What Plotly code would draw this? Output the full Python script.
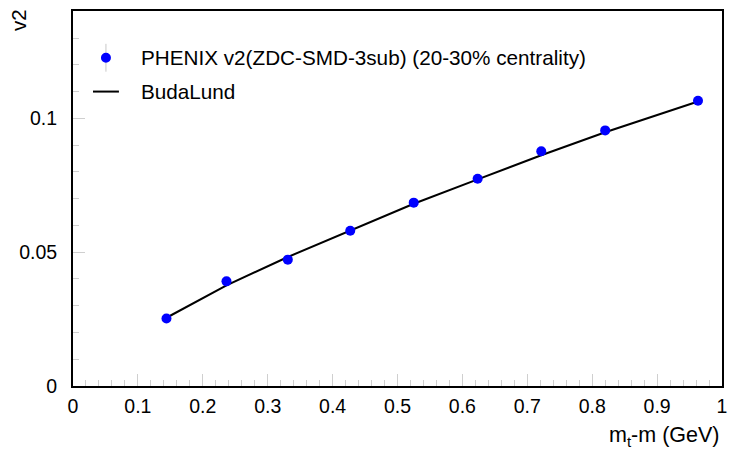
import plotly.graph_objects as go

# PHENIX v2 data points (20-30% centrality)
mt_m = [0.144, 0.2365, 0.331, 0.4272, 0.525, 0.6235, 0.7215, 0.820, 0.963]
v2_data = [0.0252, 0.0391, 0.0472, 0.0580, 0.0685, 0.0774, 0.0877, 0.0955, 0.1066]

# BudaLund model curve
v2_budalund = [0.0255, 0.0376, 0.0482, 0.0582, 0.0681, 0.0772, 0.0862, 0.0948, 0.1063]

x_ticks = [0, 0.1, 0.2, 0.3, 0.4, 0.5, 0.6, 0.7, 0.8, 0.9, 1]
y_ticks = [0, 0.05, 0.1]

FONT = "Liberation Sans, Arial, Helvetica, sans-serif"

fig = go.Figure()
fig.add_trace(go.Scatter(
    x=mt_m, y=v2_budalund, mode="lines",
    line=dict(color="black", width=2), showlegend=False,
))
fig.add_trace(go.Scatter(
    x=mt_m, y=v2_data, mode="markers",
    marker=dict(color="#0000ff", size=10), showlegend=False,
))

axis_common = dict(
    showline=True, linecolor="black", linewidth=2, mirror=True,
    showgrid=False, zeroline=False,
    ticks="inside", ticklen=12, tickwidth=1, tickcolor="#cfcfcf",
    tickfont=dict(family=FONT, size=19.5, color="black"),
)

fig.update_xaxes(
    range=[0, 1], tickvals=x_ticks, ticktext=[f"{v:g}" for v in x_ticks],
    minor=dict(dtick=0.02, ticks="inside", ticklen=6, tickcolor="#cfcfcf"),
    ticklabelstandoff=2,
    **axis_common,
)
fig.update_yaxes(
    range=[0, 0.1401], tickvals=y_ticks, ticktext=[f"{v:g}" for v in y_ticks],
    minor=dict(dtick=0.01, ticks="inside", ticklen=6, tickcolor="#cfcfcf"),
    ticklabelstandoff=10,
    **axis_common,
)

# Legend drawn by hand: marker with error stroke, and a line sample
fig.add_shape(type="line", xref="paper", yref="paper",
              x0=(106 - 73) / 650, x1=(106 - 73) / 650,
              y0=(386 - 42) / 377, y1=(386 - 70) / 377,
              line=dict(color="#c8c8c8", width=1))
fig.add_shape(type="circle", xref="paper", yref="paper",
              xsizemode="pixel", ysizemode="pixel",
              xanchor=(106 - 73) / 650, yanchor=(386 - 56) / 377,
              x0=-5, x1=5, y0=-5, y1=5,
              fillcolor="#0000ff", line=dict(color="#0000ff", width=0))
fig.add_shape(type="line", xref="paper", yref="paper",
              x0=(93 - 73) / 650, x1=(119 - 73) / 650,
              y0=(386 - 90) / 377, y1=(386 - 90) / 377,
              line=dict(color="black", width=2))
fig.add_annotation(text="PHENIX v2(ZDC-SMD-3sub) (20-30% centrality)",
                   xref="paper", yref="paper",
                   x=(139 - 73) / 650, y=(386 - 56) / 377,
                   xanchor="left", yanchor="middle", showarrow=False,
                   font=dict(family=FONT, size=20.7, color="black"))
fig.add_annotation(text="BudaLund",
                   xref="paper", yref="paper",
                   x=(139 - 73) / 650, y=(386 - 90) / 377,
                   xanchor="left", yanchor="middle", showarrow=False,
                   font=dict(family=FONT, size=20.7, color="black"))

# Axis titles
fig.add_annotation(text="m<sub>t</sub>-m (GeV)", xref="paper", yref="paper",
                   x=1.0, y=(386 - 437) / 377, xanchor="right", yanchor="middle",
                   showarrow=False,
                   font=dict(family=FONT, size=21.5, color="black"))
fig.add_annotation(text="v2", xref="paper", yref="paper",
                   x=-0.085, y=1.01, xanchor="center", yanchor="top",
                   textangle=-90, showarrow=False,
                   font=dict(family=FONT, size=20.5, color="black"))

fig.update_layout(
    width=736, height=449,
    margin=dict(l=73, r=13, t=9, b=63),
    paper_bgcolor="white", plot_bgcolor="white",
)

fig.write_html("out.html")
